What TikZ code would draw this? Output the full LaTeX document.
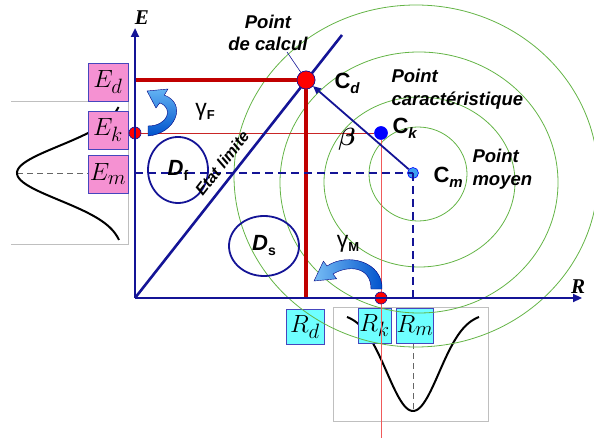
\documentclass[tikz,border=0pt]{standalone}
\usepackage{amsmath}
\usepackage{fontspec}
\setmainfont{Liberation Serif}
\setsansfont{Liberation Sans}
\usetikzlibrary{arrows.meta,shapes.geometric}
\definecolor{navy}{RGB}{20,20,150}
\definecolor{dred}{RGB}{192,0,0}
\definecolor{lred}{RGB}{240,90,90}
\definecolor{grn}{RGB}{100,180,70}
\definecolor{pinkb}{RGB}{245,145,210}
\definecolor{cyanb}{RGB}{110,255,255}
\definecolor{boxedge}{RGB}{70,70,190}
\definecolor{lblue}{RGB}{60,160,240}
\begin{document}
\begin{tikzpicture}[x=1pt,y=-1pt,
  pbox/.style={draw=boxedge, line width=0.9pt, fill=pinkb, minimum width=40pt, minimum height=38pt, inner sep=0pt, font=\fontsize{24.88}{25}\selectfont},
  cbox/.style={draw=boxedge, line width=0.9pt, fill=cyanb, minimum width=35pt, minimum height=35pt, inner sep=0pt, font=\fontsize{24.88}{25}\selectfont},
  axisline/.style={draw=navy, line width=2.6pt, -{Triangle[length=9pt,width=8pt]}},
  dashline/.style={draw=navy, line width=2.2pt, dash pattern=on 8pt off 5pt},
  thickred/.style={draw=dred, line width=3.5pt},
  thinred/.style={draw=dred!85, line width=0.9pt},
  ring/.style={draw=grn, line width=0.8pt},
  frame/.style={draw=black!25, line width=0.8pt},
  bell/.style={draw=black, line width=2pt},
  grdash/.style={draw=black!60, line width=0.8pt, dash pattern=on 6pt off 4pt},
  dot/.style={circle, inner sep=0pt, draw=navy, line width=0.6pt},
  zone/.style={draw=navy, line width=1.8pt, ellipse, inner sep=0pt},
  lbl/.style={font=\sffamily\bfseries\itshape\fontsize{18.5}{23}\selectfont},
  gshape/.style={draw=blue!50!black, line width=0.4pt}
]
\useasboundingbox (0,0) rectangle (594,438);

% distributions
\draw[frame] (11,101) -- (128,101) -- (128,244) -- (11,244);
\draw[grdash] (17,173) -- (128,173);
\draw[bell] plot[domain=107:240, samples=70, smooth] ({124-107*exp(-((\x-173)/38.3)*((\x-173)/38.3))}, \x);
\draw[frame] (333,307) rectangle (488,421);
\draw[grdash] (413,343) -- (413,411);
\draw[bell] plot[domain=347:479, samples=70, smooth] (\x, {313+98*exp(-((\x-413)/36.9)*((\x-413)/36.9))});

% boxes
\node[pbox] (Ed) at (108,82) {$E_d$};
\node[pbox] (Ek) at (108,130) {$E_k$};
\node[pbox] (Em) at (108,174) {$E_m$};
\node[cbox, minimum width=38pt] (Rd) at (305,327) {$R_d$};
\node[cbox, minimum width=33pt] (Rk) at (374.5,325.5) {$R_k$};
\node[cbox, minimum width=34pt] (Rm) at (415,325.5) {$R_m$};

% iso-probability rings
\draw[ring] (418,174) ellipse [x radius=49, y radius=47];
\draw[ring] (419.5,182) ellipse [x radius=95.5, y radius=85];
\draw[ring] (419,182.5) ellipse [x radius=139, y radius=130.5];
\draw[ring] (416,176) ellipse [x radius=182, y radius=171];

% points
\coordinate (O) at (135,298);
\coordinate (Etop) at (135,28);
\coordinate (Rend) at (582,298);
\coordinate (Ltop) at (342,35);
\coordinate (EdA) at (135,80);
\coordinate (RdA) at (306,298);
\coordinate (EmA) at (135,173);
\coordinate (RmA) at (413,298);
\coordinate (RkLow) at (381,438);
\coordinate (L1) at (287,52);
\node[dot, fill=red, minimum size=18pt] (Cd) at (306,80) {};
\node[dot, fill=blue, draw=blue, minimum size=13pt] (Ck) at (381,133) {};
\node[dot, fill=lblue, draw=blue, minimum size=11pt] (Cm) at (413,173) {};

% lines
\draw[thinred] (135,133) -- (Ck);
\draw[draw=lred, line width=0.9pt] (Ck) -- (RkLow);
\draw[thickred] (EdA) -- (Cd.center);
\draw[thickred] (Cd.center) -- (RdA);
\draw[dashline] (EmA) -- (Cm.center);
\draw[dashline] (Cm.center) -- (RmA);
\draw[axisline] (O) -- (Etop);
\draw[axisline] (O) -- (Rend);
\draw[draw=navy, line width=2.6pt] (O) -- (Ltop);
\draw[draw=navy, line width=1.8pt, -{Triangle[length=8pt,width=7pt]}] (Cm) -- (Cd);
\draw[draw=navy, line width=0.6pt] (L1) -- (Cd);

\node[dot, fill=red, minimum size=18pt] at (Cd) {};
\node[dot, fill=red, minimum size=12pt] (EkP) at (135,133) {};
\node[dot, fill=red, minimum size=12pt] (RkP) at (381,298) {};
\draw[draw=navy, line width=2.6pt] (135,126) -- (135,140);
\draw[draw=navy, line width=2.6pt] (374,298) -- (388,298);

% safety factor arrows
\shadedraw[gshape, top color=lblue!80!white, bottom color=blue!60!cyan!80!black]
  (148,136) .. controls (175,134) and (188,104) .. (164.3,95.1) -- (168,89) -- (147,91) -- (156,108) -- (159.7,102.9)
  .. controls (174,108) and (168,126) .. (148,126) -- cycle;
\shadedraw[gshape, left color=lblue!70!white, right color=blue!60!cyan!80!black]
  (382,289) .. controls (383,262) and (348,252) .. (327,266) -- (323.4,261.2) -- (314,281) -- (336.6,278.8) -- (333,274)
  .. controls (348,265) and (371,266) .. (371,289) -- cycle;

% domains
\node[zone, minimum width=60pt, minimum height=66pt] (Df) at (178,170) {\sffamily\bfseries\itshape\fontsize{22}{22}\selectfont D\raisebox{-5pt}{\upshape\fontsize{14}{14}\selectfont f}};
\node[zone, minimum width=70pt, minimum height=60pt] (Ds) at (264,246) {\sffamily\bfseries\itshape\fontsize{22}{22}\selectfont D\raisebox{-5pt}{\upshape\fontsize{14}{14}\selectfont s}};

% labels
\node (Elab) at (142,18) {\bfseries\itshape\fontsize{21}{21}\selectfont E};
\node (Rlab) at (578,287) {\bfseries\itshape\fontsize{21}{21}\selectfont R};
\node[align=center, font=\sffamily\bfseries\itshape\fontsize{18.5}{22}\selectfont] (pdc) at (268,33) {Point\\de calcul};
\node[anchor=west] (Cdl) at (331,83) {\sffamily\bfseries\fontsize{22}{22}\selectfont C\raisebox{-5pt}{\itshape\fontsize{15}{15}\selectfont d}};
\node[lbl, align=left, anchor=west] (pcar) at (388,89) {Point\\caractéristique};
\node[anchor=west] (Ckl) at (389,128) {\sffamily\bfseries\fontsize{22}{22}\selectfont C\raisebox{-5pt}{\itshape\fontsize{15}{15}\selectfont k}};
\node[anchor=west] (Cml) at (430,177) {\sffamily\bfseries\fontsize{22}{22}\selectfont C\raisebox{-5pt}{\itshape\fontsize{15}{15}\selectfont m}};
\node[lbl, align=left, anchor=west] (pmoy) at (469,169) {Point\\moyen};
\node (beta) at (347,139) {\fontsize{24.88}{25}\selectfont$\boldsymbol{\beta}$};
\node (gF) at (205,112) {\sffamily\fontsize{23}{23}\selectfont γ\raisebox{-4pt}{\bfseries\fontsize{13}{13}\selectfont F}};
\node (gM) at (348,244) {\sffamily\fontsize{23}{23}\selectfont γ\raisebox{-4pt}{\bfseries\fontsize{13}{13}\selectfont M}};
\node[rotate=52, font=\sffamily\bfseries\itshape\fontsize{16}{16}\selectfont] (etat) at (222,163) {Etat limite};
\end{tikzpicture}
\end{document}
